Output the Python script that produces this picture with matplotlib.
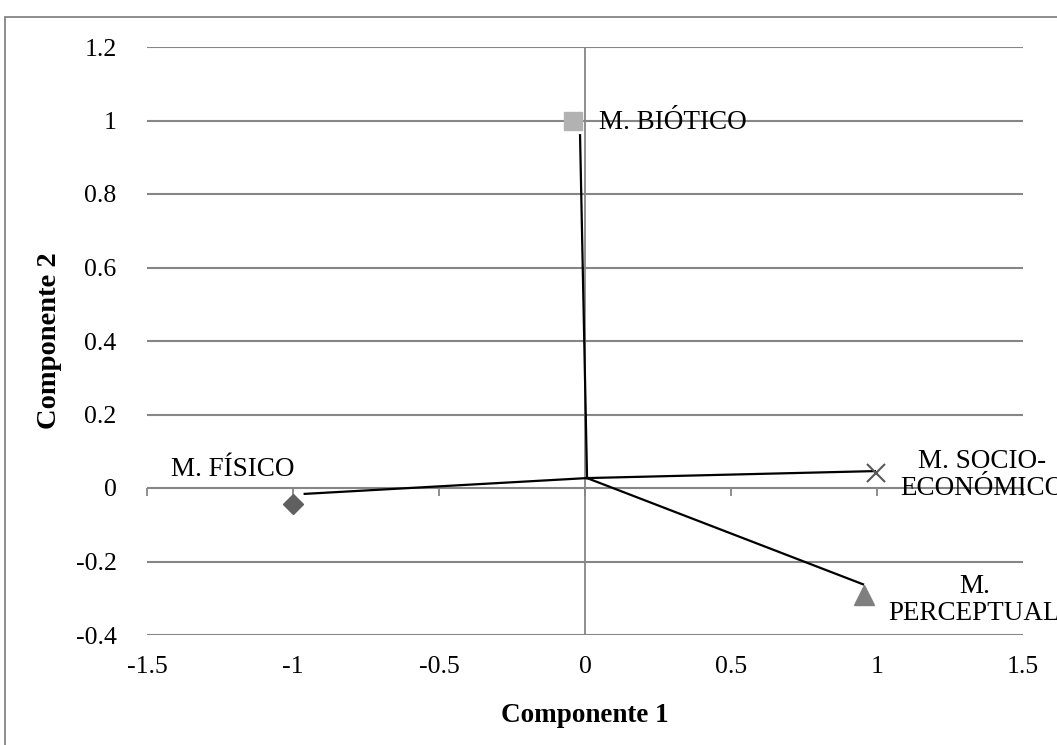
import matplotlib.pyplot as plt
from matplotlib.patches import Rectangle

plt.rcParams['font.family'] = ['Liberation Serif', 'DejaVu Serif']

# marker positions (component 1, component 2)
names = ["M. FÍSICO", "M. BIÓTICO", "M. SOCIO-\nECONÓMICO", "M.\nPERCEPTUAL"]
comp1 = [-1.0, -0.04, 0.997, 0.955]
comp2 = [-0.044, 1.0, 0.042, -0.292]

# vector lines drawn from a common start to their end points
line_start = (0.007, 0.027)
line_end_x = [-0.96, -0.017, 0.993, 0.952]
line_end_y = [-0.016, 0.96, 0.046, -0.262]

# label anchors
label_x = [-1.205, 0.048, 1.36, 1.334]
label_y = [0.05, 0.995, 0.035, -0.305]
label_ha = ["center", "left", "center", "center"]

markers = ["D", "s", "x", "^"]
msizes = [10, 13, 13, 14]
mcolors = ["#606060", "#b2b2b2", "#595959", "#7f7f7f"]

xticks = [-1.5, -1, -0.5, 0, 0.5, 1, 1.5]
yticks = [-0.4, -0.2, 0, 0.2, 0.4, 0.6, 0.8, 1, 1.2]

fig = plt.figure(figsize=(10.57, 7.45), dpi=100)
ax = fig.add_axes([147 / 1057, 1 - 635 / 745, 876 / 1057, 588 / 745])

grid_c = "#868686"
ax.set_xlim(-1.5, 1.5)
ax.set_ylim(-0.4, 1.2)
ax.set_yticks(yticks)
ax.set_xticks(xticks)
ax.set_yticklabels([f"{v:g}" for v in yticks])
ax.set_xticklabels([f"{v:g}" for v in xticks])
ax.grid(axis="y", color=grid_c, lw=1.5)
ax.grid(axis="x", visible=False)
for s in ax.spines.values():
    s.set_visible(False)
ax.tick_params(axis="y", length=0, labelsize=18.5, pad=22)
ax.tick_params(axis="x", length=0, labelsize=18.5, pad=15)
ax.axvline(0, color=grid_c, lw=1.3, zorder=1)

# x axis with tick marks crossing at y = 0
sec = ax.secondary_xaxis(0.25)
sec.set_xticks(xticks)
sec.tick_params(direction="out", length=6, width=1.3, color=grid_c, labelbottom=False)
sec.spines["bottom"].set_visible(False)

for ex, ey in zip(line_end_x, line_end_y):
    ax.plot([line_start[0], ex], [line_start[1], ey], color="black", lw=1.6, zorder=3)

for x, y, m, ms, c in zip(comp1, comp2, markers, msizes, mcolors):
    if m == "x":
        ax.plot(x, y, marker=m, ms=ms, mec=c, mew=1.5, ls="none", zorder=4)
    else:
        ax.plot(x, y, marker=m, ms=ms, color=c, mec=c, ls="none", zorder=4)

for t, x, y, ha in zip(names, label_x, label_y, label_ha):
    ax.text(x, y, t, ha=ha, va="center", fontsize=19.5, linespacing=1.08, zorder=5)

ax.set_xlabel("Componente 1", fontsize=19.5, fontweight="bold", labelpad=18)
ax.set_ylabel("Componente 2", fontsize=20.5, fontweight="bold", labelpad=10)

fig.patches.append(Rectangle((5 / 1057, -0.05), 1.2, 1 - 17 / 745 + 0.05,
                             transform=fig.transFigure, fill=False,
                             edgecolor="#7a7a7a", lw=1.2))

fig.savefig("out.png", dpi=100)
